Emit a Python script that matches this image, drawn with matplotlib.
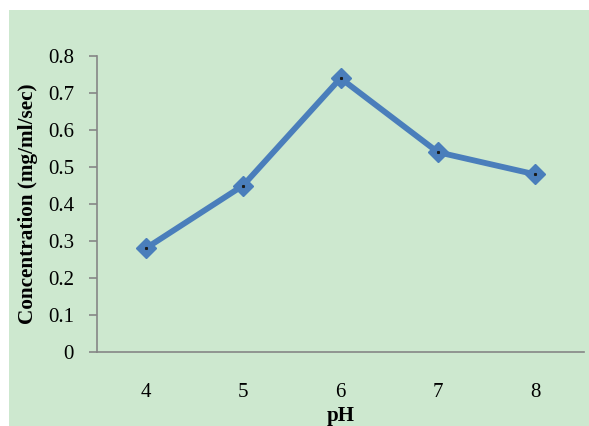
import matplotlib
matplotlib.use("Agg")
import matplotlib.pyplot as plt
from matplotlib.patches import Rectangle

ph_values = ["4", "5", "6", "7", "8"]
concentration = [0.28, 0.45, 0.74, 0.54, 0.48]
y_ticks = [0, 0.1, 0.2, 0.3, 0.4, 0.5, 0.6, 0.7, 0.8]
y_tick_labels = ["0", "0.1", "0.2", "0.3", "0.4", "0.5", "0.6", "0.7", "0.8"]

bg = "#cde8cf"
line_color = "#4a7ebb"
axis_color = "#868686"

plt.rcParams["font.family"] = "serif"
plt.rcParams["font.serif"] = ["Liberation Serif", "DejaVu Serif"]

fig = plt.figure(figsize=(5.89, 4.26), dpi=100)
fig.patch.set_facecolor("white")
fig.add_artist(Rectangle((9 / 589, 0), 1 - 9 / 589, 1 - 10 / 426,
                         transform=fig.transFigure, facecolor=bg,
                         edgecolor="none", zorder=0))

ax = fig.add_axes([97 / 589, 1 - 352 / 426, (584 - 97) / 589, (352 - 56) / 426])
ax.set_facecolor("none")

x = list(range(len(ph_values)))
ax.plot(x, concentration, color=line_color, lw=4.2, marker="D",
        markersize=10, markerfacecolor=line_color, markeredgecolor=line_color,
        solid_joinstyle="miter", zorder=3)
ax.plot(x, concentration, ls="none", marker="s", markersize=1.2,
        color="#1a1a1a", zorder=4)

ax.set_xlim(-0.5, len(ph_values) - 0.5)
ax.set_ylim(0, 0.8)
ax.set_xticks(x)
ax.set_xticklabels(ph_values)
ax.set_yticks(y_ticks)
ax.set_yticklabels(y_tick_labels)

for side in ("top", "right"):
    ax.spines[side].set_visible(False)
for side in ("left", "bottom"):
    ax.spines[side].set_color(axis_color)
    ax.spines[side].set_linewidth(1.2)

ax.tick_params(axis="y", direction="out", length=6, width=1.2,
               color=axis_color, labelsize=15, pad=10.5)
ax.tick_params(axis="x", length=0, labelsize=15, pad=22)

ax.set_xlabel("pH", fontsize=15, fontweight="bold", labelpad=3.2)
ax.set_ylabel("Concentration (mg/ml/sec)", fontsize=15.3, fontweight="bold",
              labelpad=7)

fig.savefig("out.png", dpi=100, facecolor=fig.get_facecolor())
